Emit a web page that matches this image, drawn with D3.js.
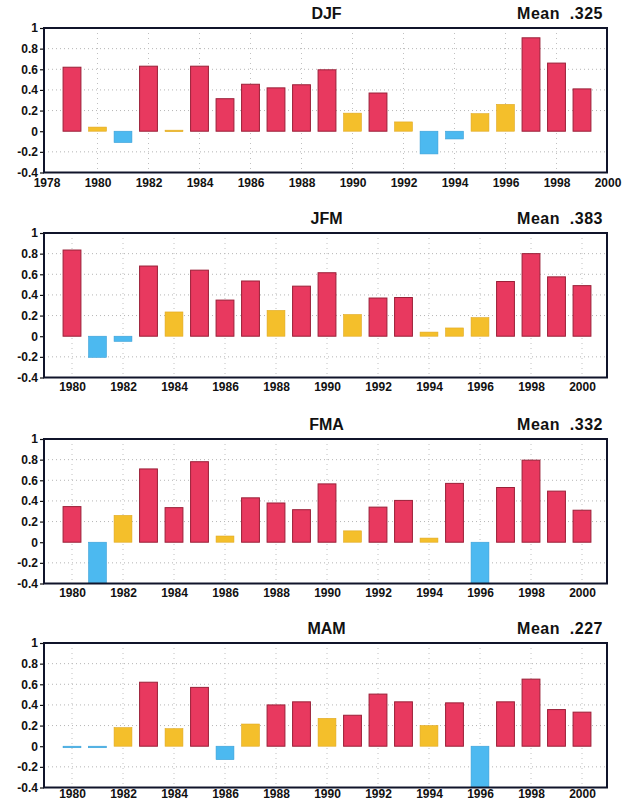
<!DOCTYPE html>
<html>
<head>
<meta charset="utf-8">
<script src="https://cdn.jsdelivr.net/npm/d3@7"></script>
<style>
  html, body { margin: 0; padding: 0; background: #fff; }
  svg { display: block; }
  text { font-family: "Liberation Sans", Arial, Helvetica, sans-serif; font-weight: bold; }
</style>
</head>
<body>
<script>
// ---------- data ----------
const seasons = ["DJF", "JFM", "FMA", "MAM"];
const means = [".325", ".383", ".332", ".227"];

const yearsDJF = d3.range(1979, 2000);        // 1979..1999
const yearsOther = d3.range(1980, 2001);      // 1980..2000

const valuesDJF = [0.62, 0.04, -0.11, 0.63, 0.01, 0.63, 0.315, 0.455, 0.42, 0.45,
                   0.595, 0.175, 0.37, 0.09, -0.22, -0.075, 0.17, 0.26, 0.905, 0.66, 0.41];
const valuesJFM = [0.835, -0.205, -0.05, 0.68, 0.235, 0.64, 0.35, 0.535, 0.25, 0.485,
                   0.615, 0.21, 0.37, 0.375, 0.04, 0.08, 0.18, 0.53, 0.80, 0.575, 0.49];
const valuesFMA = [0.345, -0.4, 0.26, 0.71, 0.335, 0.78, 0.06, 0.43, 0.38, 0.315,
                   0.565, 0.11, 0.34, 0.405, 0.04, 0.57, -0.4, 0.53, 0.795, 0.495, 0.31];
const valuesMAM = [-0.01, -0.01, 0.18, 0.62, 0.17, 0.57, -0.13, 0.215, 0.40, 0.43,
                   0.27, 0.30, 0.505, 0.43, 0.20, 0.42, -0.4, 0.43, 0.65, 0.355, 0.33];

const xDomains = [[1978, 2000], [1979, 2001], [1979, 2001], [1979, 2001]];
const xTickYears = [d3.range(1978, 2001, 2), d3.range(1980, 2001, 2), d3.range(1980, 2001, 2), d3.range(1980, 2001, 2)];
const yTicks = [-0.4, -0.2, 0, 0.2, 0.4, 0.6, 0.8, 1];
const yGrid = [-0.2, 0.2, 0.4, 0.6, 0.8];

const panels = [
  { years: yearsDJF, values: valuesDJF },
  { years: yearsOther, values: valuesJFM },
  { years: yearsOther, values: valuesFMA },
  { years: yearsOther, values: valuesMAM }
];

// ---------- layout ----------
const W = 633, H = 802;
const offsets = [0, 205, 411, 615];
const xPads = [6, 5, 5, 2];
const pLeft = 44, pRight = 607, pTop = 28, pBottom = 172.5;
const RED = "#e8395f", YEL = "#f4bf2b", BLUE = "#4cb9f0";

const svg = d3.select("body").append("svg").attr("width", W).attr("height", H);

const y = d3.scaleLinear().domain([-0.4, 1]).range([pBottom, pTop]);

panels.forEach((p, i) => {
  const g = svg.append("g").attr("transform", `translate(0,${offsets[i]})`);
  const x = d3.scaleLinear().domain(xDomains[i]).range([pLeft + 2.5, pRight + 0.5]);
  const bw = (x(1) - x(0)) * 0.7;

  // clip
  const cid = "clip" + i;
  g.append("clipPath").attr("id", cid).append("rect")
    .attr("x", pLeft).attr("y", pTop).attr("width", pRight - pLeft).attr("height", pBottom - pTop);

  // grid
  g.append("g").selectAll("line").data(yGrid).join("line")
    .attr("x1", pLeft).attr("x2", pRight)
    .attr("y1", d => y(d)).attr("y2", d => y(d))
    .attr("stroke", "#b5b5b5").attr("stroke-width", 1).attr("stroke-dasharray", "1,3");
  g.append("g").selectAll("line").data(xTickYears[i].filter(d => x(d) > pLeft + 3 && x(d) < pRight - 3)).join("line")
    .attr("x1", d => x(d)).attr("x2", d => x(d))
    .attr("y1", pTop).attr("y2", pBottom)
    .attr("stroke", "#c0c0c0").attr("stroke-width", 1).attr("stroke-dasharray", "1,4");

  // bars
  const color = v => v < 0 ? BLUE : (v < 0.3 ? YEL : RED);
  const stroke = v => v < 0 ? "#3a9fd6" : (v < 0.3 ? "#e0a820" : "#9a2038");
  g.append("g").attr("clip-path", `url(#${cid})`)
    .selectAll("rect").data(p.years.map((yr, k) => ({ yr, v: p.values[k] }))).join("rect")
    .attr("x", d => x(d.yr) - bw / 2)
    .attr("width", bw)
    .attr("y", d => y(Math.max(0, d.v)))
    .attr("height", d => Math.max(1.5, Math.abs(y(d.v) - y(0))))
    .attr("fill", d => color(d.v))
    .attr("stroke", d => stroke(d.v))
    .attr("stroke-width", d => d.v >= 0.3 ? 1 : 0.6);

  // y axis
  const ya = d3.axisLeft(y).tickValues(yTicks).tickSize(4).tickPadding(2)
    .tickFormat(d => d === 0 ? "0" : d === 1 ? "1" : (d < 0 ? "-" : "") + d3.format(".1f")(Math.abs(d)));
  const yg = g.append("g").attr("transform", `translate(${pLeft},0)`).call(ya);
  yg.select(".domain").remove();
  yg.selectAll("line").attr("stroke", "#111").attr("stroke-width", 1.2);
  yg.selectAll("text").attr("font-size", 12).attr("fill", "#111")
    .style("font-family", "'Liberation Sans', Arial, sans-serif").style("font-weight", "bold");

  // x axis
  const xa = d3.axisBottom(x).tickValues(xTickYears[i]).tickSize(0).tickPadding(xPads[i]).tickFormat(d3.format("d"));
  const xg = g.append("g").attr("transform", `translate(0,${pBottom})`).call(xa);
  xg.select(".domain").remove();
  xg.selectAll("text").attr("font-size", 12).attr("fill", "#111")
    .style("font-family", "'Liberation Sans', Arial, sans-serif").style("font-weight", "bold");

  // frame
  g.append("rect").attr("x", pLeft).attr("y", pTop).attr("width", pRight - pLeft).attr("height", pBottom - pTop)
    .attr("fill", "none").attr("stroke", "#10142a").attr("stroke-width", 2);

  // titles
  g.append("text").attr("x", (pLeft + pRight) / 2 + 1).attr("y", 19).attr("text-anchor", "middle")
    .attr("font-size", 16).attr("fill", "#111").text(seasons[i]);
  g.append("text").attr("x", pRight - 4).attr("y", 19).attr("text-anchor", "end")
    .attr("font-size", 16).attr("fill", "#111").attr("letter-spacing", "0.5")
    .style("white-space", "pre").text("Mean  " + means[i]);
});
</script>
</body>
</html>
